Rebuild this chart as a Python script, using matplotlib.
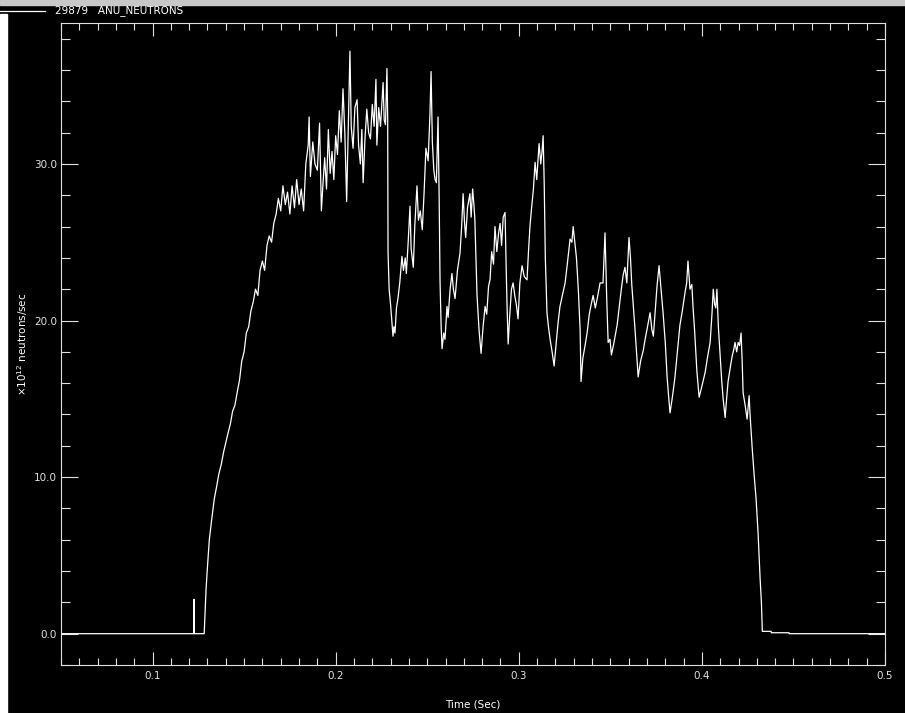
import numpy as np
from matplotlib import pyplot as plt
from matplotlib.lines import Line2D
from matplotlib.patches import Rectangle
from matplotlib.ticker import MultipleLocator, FormatStrFormatter

# shot info
shot = "29879"
signal = "ANU_NEUTRONS"

# time (sec)
t = [0.0500, 0.1225, 0.1226, 0.1227, 0.1282,
     0.1285, 0.1292, 0.1300, 0.1310, 0.1323, 0.1337, 0.1350, 0.1362, 0.1375, 0.1388,
     0.1400, 0.1412, 0.1425, 0.1437, 0.1450, 0.1462, 0.1475, 0.1487, 0.1500, 0.1512,
     0.1525, 0.1537, 0.1550, 0.1562, 0.1575, 0.1587, 0.1600, 0.1612, 0.1625, 0.1637,
     0.1650, 0.1662, 0.1675, 0.1687, 0.1700, 0.1712, 0.1725, 0.1737, 0.1750, 0.1762,
     0.1775, 0.1787, 0.1800, 0.1812, 0.1825, 0.1837, 0.1850, 0.1855, 0.1862, 0.1875,
     0.1887, 0.1900, 0.1912, 0.1922, 0.1930, 0.1940, 0.1950, 0.1960, 0.1970, 0.1980,
     0.1990, 0.2000, 0.2010, 0.2020, 0.2030, 0.2040, 0.2050, 0.2060, 0.2070, 0.2078,
     0.2085, 0.2095, 0.2105, 0.2117, 0.2125, 0.2135, 0.2143, 0.2150, 0.2160, 0.2170,
     0.2180, 0.2190, 0.2200, 0.2210, 0.2220, 0.2225, 0.2235, 0.2245, 0.2259, 0.2265,
     0.2272, 0.2280, 0.2284, 0.2286, 0.2292, 0.2300, 0.2308, 0.2313, 0.2318, 0.2324,
     0.2332, 0.2340, 0.2350, 0.2362, 0.2370, 0.2380, 0.2386, 0.2396, 0.2406, 0.2412,
     0.2424, 0.2432, 0.2444, 0.2452, 0.2462, 0.2473, 0.2483, 0.2493, 0.2505, 0.2515,
     0.2521, 0.2528, 0.2536, 0.2543, 0.2550, 0.2559, 0.2565, 0.2570, 0.2576, 0.2581,
     0.2590, 0.2597, 0.2608, 0.2614, 0.2625, 0.2635, 0.2643, 0.2652, 0.2665, 0.2679,
     0.2688, 0.2696, 0.2703, 0.2710, 0.2720, 0.2733, 0.2740, 0.2748, 0.2755, 0.2760,
     0.2766, 0.2772, 0.2783, 0.2794, 0.2805, 0.2816, 0.2825, 0.2835, 0.2843, 0.2852,
     0.2862, 0.2870, 0.2880, 0.2890, 0.2898, 0.2906, 0.2915, 0.2925, 0.2930, 0.2936,
     0.2942, 0.2950, 0.2960, 0.2969, 0.2978, 0.2987, 0.2996, 0.3006, 0.3018, 0.3030,
     0.3045, 0.3053, 0.3061, 0.3070, 0.3080, 0.3089, 0.3098, 0.3111, 0.3120, 0.3127,
     0.3133, 0.3139, 0.3145, 0.3154, 0.3162, 0.3171, 0.3182, 0.3193, 0.3203, 0.3214,
     0.3225, 0.3238, 0.3253, 0.3265, 0.3280, 0.3290, 0.3297, 0.3306, 0.3315, 0.3325,
     0.3335, 0.3340, 0.3350, 0.3362, 0.3373, 0.3385, 0.3395, 0.3406, 0.3418, 0.3430,
     0.3444, 0.3460, 0.3471, 0.3480, 0.3488, 0.3498, 0.3506, 0.3520, 0.3537, 0.3550,
     0.3560, 0.3570, 0.3580, 0.3590, 0.3602, 0.3610, 0.3617, 0.3625, 0.3635, 0.3645,
     0.3652, 0.3665, 0.3680, 0.3690, 0.3703, 0.3717, 0.3727, 0.3735, 0.3745, 0.3755,
     0.3766, 0.3777, 0.3788, 0.3800, 0.3810, 0.3818, 0.3826, 0.3840, 0.3853, 0.3866,
     0.3880, 0.3893, 0.3908, 0.3917, 0.3924, 0.3935, 0.3945, 0.3952, 0.3960, 0.3973,
     0.3985, 0.4000, 0.4018, 0.4030, 0.4045, 0.4055, 0.4062, 0.4070, 0.4076, 0.4082,
     0.4090, 0.4100, 0.4108, 0.4116, 0.4127, 0.4135, 0.4143, 0.4155, 0.4165, 0.4175,
     0.4181, 0.4190, 0.4198, 0.4206, 0.4214, 0.4220, 0.4225, 0.4236, 0.4247, 0.4258,
     0.4263, 0.4268, 0.4275, 0.4285, 0.4296, 0.4307, 0.4318, 0.4325, 0.4329, 0.4330,
     0.4378, 0.4379, 0.4476, 0.4477, 0.5000]

# neutron rate (x1e12 n/s)
rate = [0.0, 0.0, 2.2, 0.0, 0.0,
        0.8, 2.8, 4.3, 6.0, 7.3, 8.6, 9.4, 10.2, 10.8, 11.6,
        12.2, 12.8, 13.4, 14.2, 14.6, 15.4, 16.2, 17.4, 18.0, 19.2,
        19.6, 20.6, 21.2, 22.0, 21.6, 23.2, 23.8, 23.2, 24.8, 25.4,
        25.0, 26.2, 26.8, 27.8, 27.0, 28.6, 27.4, 28.2, 26.8, 28.6,
        27.2, 29.0, 27.4, 28.4, 27.0, 30.0, 31.2, 33.0, 29.2, 31.4,
        30.0, 29.6, 32.6, 27.0, 28.6, 30.4, 28.4, 32.2, 29.4, 30.8,
        29.0, 31.8, 30.6, 33.4, 31.4, 34.8, 32.0, 27.6, 33.0, 37.2,
        32.4, 31.0, 33.6, 34.1, 31.2, 30.0, 32.2, 28.8, 31.6, 33.5,
        32.0, 31.6, 33.8, 32.4, 35.4, 31.2, 33.6, 32.4, 35.2, 32.8,
        32.5, 36.1, 33.0, 24.4, 22.0, 21.0, 19.8, 19.0, 19.6, 19.2,
        20.8, 21.4, 22.4, 24.1, 23.2, 24.0, 23.0, 25.0, 27.3, 24.6,
        23.4, 26.0, 28.6, 26.4, 27.0, 25.8, 28.2, 31.0, 30.2, 33.2,
        35.9, 31.4, 29.6, 29.0, 28.8, 33.0, 28.0, 22.5, 19.6, 18.2,
        19.2, 18.8, 20.9, 20.2, 22.0, 23.0, 22.0, 21.4, 23.2, 24.3,
        26.0, 28.1, 26.4, 25.3, 27.2, 28.1, 26.6, 28.4, 27.4, 26.5,
        24.0, 21.6, 19.4, 17.9, 19.6, 20.9, 20.4, 22.2, 22.6, 24.4,
        23.6, 26.0, 24.4, 25.6, 26.2, 24.8, 26.6, 26.9, 24.0, 20.9,
        18.5, 20.2, 22.0, 22.4, 21.6, 21.0, 20.1, 22.4, 23.5, 22.8,
        22.6, 24.4, 26.0, 27.2, 28.4, 30.1, 29.0, 31.3, 30.0, 30.8,
        31.8, 28.7, 24.0, 20.5, 19.6, 18.8, 18.0, 17.1, 18.4, 19.8,
        20.9, 21.6, 22.4, 23.6, 25.2, 25.0, 26.0, 25.0, 24.0, 22.0,
        19.4, 16.1, 17.6, 18.4, 19.2, 20.4, 21.0, 21.6, 20.8, 21.5,
        22.4, 22.4, 25.6, 21.5, 18.6, 18.8, 17.8, 18.6, 19.7, 21.0,
        22.0, 22.9, 23.4, 22.4, 25.3, 24.0, 22.3, 21.0, 19.4, 17.6,
        16.4, 17.4, 18.1, 18.8, 19.6, 20.5, 19.4, 19.0, 20.6, 22.2,
        23.5, 22.0, 20.5, 18.6, 16.4, 15.2, 14.1, 15.2, 16.4, 18.0,
        19.7, 20.6, 21.8, 22.4, 23.8, 22.0, 22.3, 20.8, 19.4, 16.7,
        15.1, 15.8, 16.7, 17.6, 18.6, 20.4, 22.0, 21.0, 20.8, 22.0,
        19.6, 17.7, 16.2, 15.0, 13.8, 15.0, 16.1, 17.0, 17.7, 18.2,
        18.6, 18.0, 18.6, 18.4, 19.2, 17.4, 15.4, 14.6, 13.7, 15.2,
        14.0, 13.1, 11.8, 10.2, 8.6, 6.4, 3.5, 2.0, 0.4, 0.15,
        0.15, 0.06, 0.06, 0.0, 0.0]

fig = plt.figure(figsize=(9.05, 7.13), dpi=100, facecolor="black")
ax = fig.add_axes([61/905, 48/713, 824/905, 642/713])
ax.set_facecolor("black")

ax.plot(t, rate, color="white", lw=0.9)

ax.set_xlim(0.05, 0.5)
ax.set_ylim(-2, 39)
ax.xaxis.set_major_locator(MultipleLocator(0.1))
ax.xaxis.set_minor_locator(MultipleLocator(0.01))
ax.yaxis.set_major_locator(MultipleLocator(10))
ax.yaxis.set_minor_locator(MultipleLocator(2))
ax.xaxis.set_major_formatter(FormatStrFormatter("%.1f"))
ax.yaxis.set_major_formatter(FormatStrFormatter("%.1f"))

for s in ax.spines.values():
    s.set_color("#e0e0e0")
    s.set_linewidth(0.8)

ax.tick_params(axis="x", which="major", direction="in", length=9.5, width=0.8,
               top=True, bottom=True, colors="#e0e0e0", labelsize=7.5, pad=4)
ax.tick_params(axis="x", which="minor", direction="in", length=5, width=0.8,
               top=True, bottom=True, colors="#e0e0e0")
ax.tick_params(axis="y", which="major", direction="in", length=12.5, width=0.8,
               left=True, right=True, colors="#e0e0e0", labelsize=7.5, pad=3)
ax.tick_params(axis="y", which="minor", direction="in", length=6.5, width=0.8,
               left=True, right=True, colors="#e0e0e0")

ax.set_xlabel("Time (Sec)", color="white", fontsize=7.5, va="center")
ax.xaxis.set_label_coords(0.5, -0.062)
ax.set_ylabel(r"$\times$10$^{12}$ neutrons/sec", color="white", fontsize=7.5, va="center")
ax.yaxis.set_label_coords(-0.047, 0.5)

# window frame bits: grey strip on top, white strip on the left
fig.add_artist(Rectangle((0, 1 - 5/713), 1, 5/713, transform=fig.transFigure,
                         color="#c8c8c8", zorder=0))
fig.add_artist(Rectangle((0, 0), 7/905, 1 - 14/713, transform=fig.transFigure,
                         color="white", zorder=0))

# IDL style legend line at the top
fig.add_artist(Line2D([0, 45/905], [1 - 11/713, 1 - 11/713], transform=fig.transFigure,
                      color="white", lw=0.9))
fig.text(55/905, 1 - 11/713, shot + "   " + signal, color="white", fontsize=7.5,
         va="center", ha="left")

fig.savefig("out.png", dpi=100, facecolor="black")
